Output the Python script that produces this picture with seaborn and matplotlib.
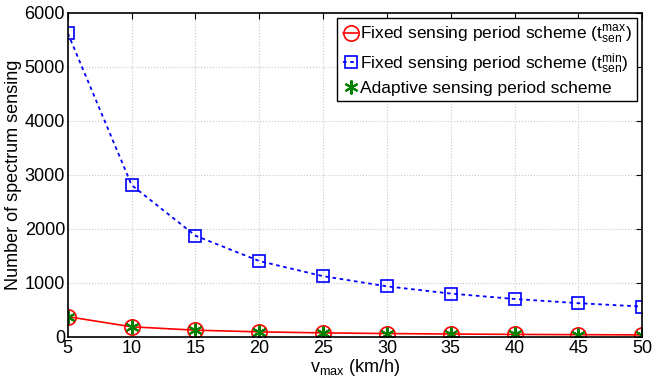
import matplotlib
matplotlib.use("Agg")
import matplotlib.pyplot as plt
import seaborn as sns
import pandas as pd

v_max = [5, 10, 15, 20, 25, 30, 35, 40, 45, 50]
fixed_max = [375, 187.5, 125, 93.75, 75, 62.5, 53.6, 46.9, 41.7, 37.5]
fixed_min = [5625, 2812, 1875, 1406, 1125, 937, 803, 703, 625, 562]
adaptive = [375, 187.5, 125, 93.75, 75, 62.5, 53.6, 46.9, 41.7, 37.5]

labels = [r"Fixed sensing period scheme ($\mathregular{t_{sen}^{max}}$)",
          r"Fixed sensing period scheme ($\mathregular{t_{sen}^{min}}$)",
          "Adaptive sensing period scheme"]

sns.set_style("white")
plt.rcParams['font.family'] = ['Liberation Sans', 'DejaVu Sans']
plt.rcParams['mathtext.fontset'] = 'custom'
plt.rcParams['mathtext.rm'] = 'Liberation Sans'
plt.rcParams['mathtext.it'] = 'Liberation Sans'
for k in ['text.color', 'axes.labelcolor', 'xtick.color', 'ytick.color']:
    plt.rcParams[k] = 'black'

fig = plt.figure(figsize=(6.52, 3.82), dpi=100)
ax = fig.add_axes([0.104, 0.118, 0.881, 0.848])

df1 = pd.DataFrame({"v": v_max, "n": fixed_max})
df2 = pd.DataFrame({"v": v_max, "n": fixed_min})
df3 = pd.DataFrame({"v": v_max, "n": adaptive})

sns.lineplot(data=df1, x="v", y="n", ax=ax, color="red", linestyle="-", lw=1.2,
             marker="o", markersize=11, markerfacecolor="none", markeredgecolor="red",
             markeredgewidth=1.2, label=labels[0])
sns.lineplot(data=df2, x="v", y="n", ax=ax, color="blue", linestyle=(0, (2, 2)), lw=1.3,
             marker="s", markersize=9, markerfacecolor="none", markeredgecolor="blue",
             markeredgewidth=1.2, label=labels[1])
sns.lineplot(data=df3, x="v", y="n", ax=ax, color="#008000", linestyle="none",
             marker="*", markersize=10, markerfacecolor="#008000", markeredgecolor="#008000",
             label=labels[2])
ax.lines[-1].set_marker((6, 2, 0))
ax.lines[-1].set_markeredgewidth(1.5)

ax.set_xlim(5, 50)
ax.set_ylim(0, 6000)
ax.set_xticks(v_max)
ax.set_yticks([0, 1000, 2000, 3000, 4000, 5000, 6000])
ax.tick_params(axis='both', labelsize=13, direction='in', length=4, width=0.8,
               top=True, right=True, pad=2, colors='black')
ax.grid(True, linestyle=':', color='#c8c8c8', lw=0.8)
for s in ax.spines.values():
    s.set_color('black')
    s.set_linewidth(1.2)

ax.set_xlabel(r"$\mathregular{v_{max}}$ (km/h)", fontsize=13, labelpad=0, color='black')
ax.set_ylabel("Number of spectrum sensing", fontsize=13, labelpad=2, color='black')

leg = ax.legend(loc="upper right", fontsize=12.5, frameon=True, fancybox=False,
                edgecolor="black", framealpha=1, handlelength=0.9, handletextpad=0.1,
                borderpad=0.3, labelspacing=0.3, borderaxespad=0.3)
leg.get_frame().set_linewidth(1.0)
for t in leg.get_texts():
    t.set_color('black')

fig.savefig("out.png", dpi=100)
